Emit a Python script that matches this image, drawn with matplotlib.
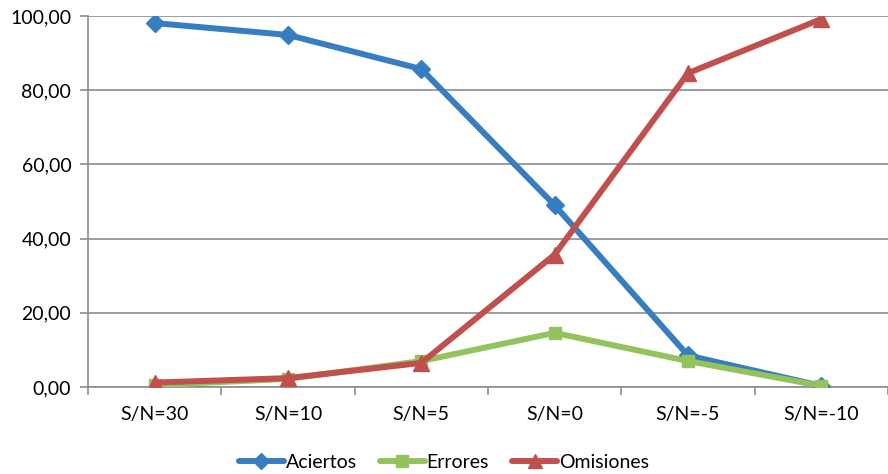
import matplotlib
matplotlib.use("Agg")
import matplotlib.pyplot as plt
from matplotlib.ticker import FuncFormatter, FixedLocator, NullFormatter

categories = ["S/N=30", "S/N=10", "S/N=5", "S/N=0", "S/N=-5", "S/N=-10"]
aciertos = [98.1, 94.9, 85.7, 49.0, 8.5, 0.3]
errores = [0.5, 2.2, 7.0, 14.6, 7.0, 0.3]
omisiones = [1.2, 2.4, 6.5, 35.7, 84.6, 99.2]

plt.rcParams["font.family"] = ["Lato", "DejaVu Sans"]

fig = plt.figure(figsize=(8.88, 4.74), dpi=100)
ax = fig.add_axes([0.0991, 0.1835, 0.9009, 0.7827])

x = list(range(len(categories)))
grid_col = "#868E94"
fs = 14

series = [
    ("Aciertos", aciertos, "#377DC1", "D", 9),
    ("Errores", errores, "#94C35E", "s", 9),
    ("Omisiones", omisiones, "#C0504D", "^", 11),
]
for name, vals, col, mk, ms in series:
    ax.plot(x, vals, color=col, lw=4.3, marker=mk, markersize=ms,
            markerfacecolor=col, markeredgecolor=col, label=name,
            solid_capstyle="round", zorder=3)

ax.set_xlim(-0.5, len(categories) - 0.5)
ax.set_ylim(0, 100)
ax.set_yticks([0, 20, 40, 60, 80, 100])
ax.yaxis.set_major_formatter(FuncFormatter(lambda v, p: f"{v:.2f}".replace(".", ",")))
ax.grid(axis="y", color=grid_col, lw=1.2)
ax.set_axisbelow(True)

ax.set_xticks(x)
ax.set_xticklabels(categories)
ax.tick_params(axis="x", which="major", length=0, pad=14, labelsize=fs)
ax.xaxis.set_minor_locator(FixedLocator([i - 0.5 for i in range(len(categories) + 1)]))
ax.xaxis.set_minor_formatter(NullFormatter())
ax.tick_params(axis="x", which="minor", length=6, color=grid_col, width=1.2)
ax.tick_params(axis="y", length=6, color=grid_col, width=1.2, labelsize=fs, pad=6)

for s in ["top", "right"]:
    ax.spines[s].set_visible(False)
ax.spines["left"].set_color(grid_col)
ax.spines["left"].set_linewidth(1.2)
ax.spines["bottom"].set_color(grid_col)
ax.spines["bottom"].set_linewidth(1.2)

leg = fig.legend(loc="lower center", bbox_to_anchor=(0.5, -0.03), ncol=3, frameon=False,
                 fontsize=fs, handlelength=2.3, handletextpad=0.1, columnspacing=1.2,
                 markerscale=0.9)

fig.savefig("out.png", dpi=100)
